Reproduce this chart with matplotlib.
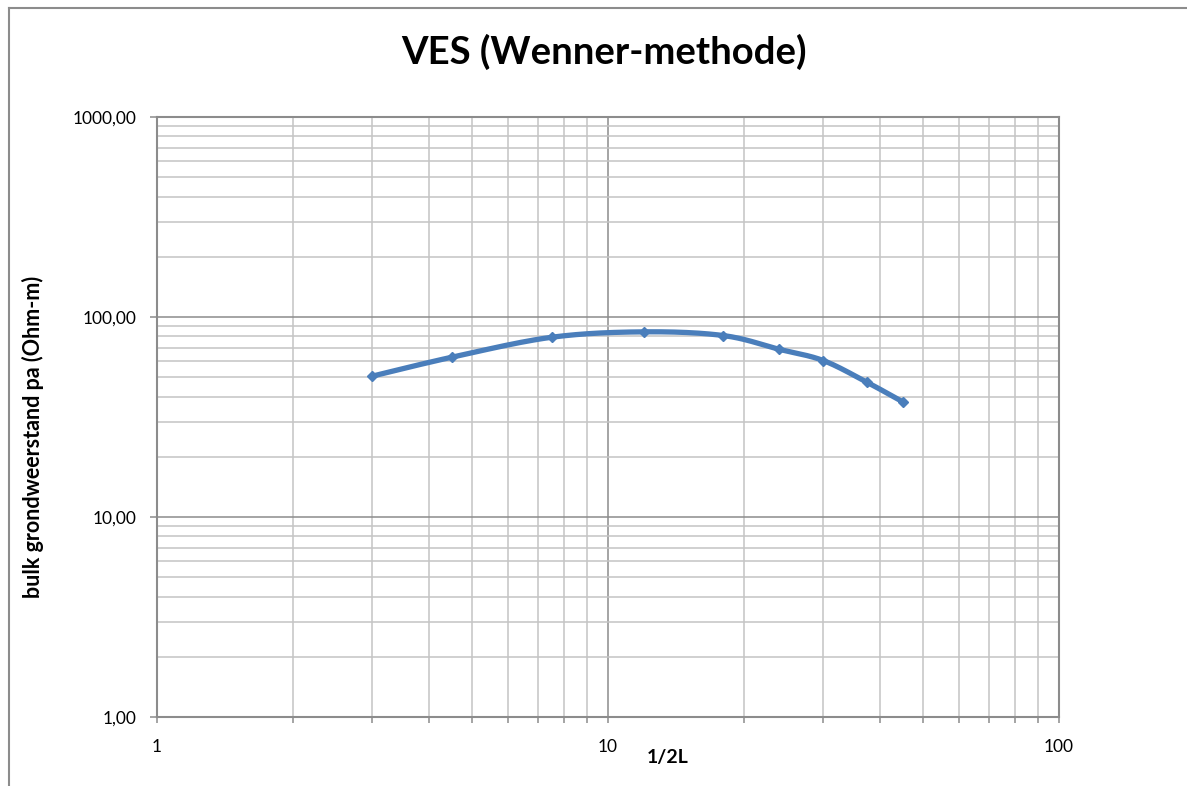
import numpy as np
import matplotlib
matplotlib.use("Agg")
import matplotlib.pyplot as plt
from matplotlib.ticker import FuncFormatter, LogLocator
from matplotlib.lines import Line2D

# Wenner spacing (1/2L) and apparent resistivity
half_L = [3, 4.5, 7.5, 12, 18, 24, 30, 37.5, 45]
rho_a = [50.6, 62.9, 79.2, 84.3, 80.8, 68.9, 60.6, 47.2, 37.7]

plt.rcParams['font.family'] = ['Lato', 'DejaVu Sans']

blue = '#4A7EBB'
major_grey = '#8C8C8C'
minor_grey = '#C4C4C4'


def smooth_curve(xs, ys, n=40):
    # Bezier smoothing in log-log space (tension 1/6, like a spreadsheet "smooth line")
    lx = np.log10(xs)
    ly = np.log10(ys)
    P = np.column_stack([lx, ly])
    pts = []
    for i in range(len(P) - 1):
        p0 = P[i - 1] if i > 0 else P[i]
        p1 = P[i]
        p2 = P[i + 1]
        p3 = P[i + 2] if i + 2 < len(P) else P[i + 1]
        c1 = p1 + (p2 - p0) / 6
        c2 = p2 - (p3 - p1) / 6
        t = np.linspace(0, 1, n)[:, None]
        seg = (1 - t) ** 3 * p1 + 3 * (1 - t) ** 2 * t * c1 + 3 * (1 - t) * t ** 2 * c2 + t ** 3 * p2
        pts.append(seg if i == 0 else seg[1:])
    pts = np.vstack(pts)
    return 10 ** pts[:, 0], 10 ** pts[:, 1]


fig = plt.figure(figsize=(11.87, 7.86), dpi=100)
ax = fig.add_axes([157 / 1187, 69 / 786, 902 / 1187, 600 / 786])

ax.set_xscale('log')
ax.set_yscale('log')
ax.set_xlim(1, 100)
ax.set_ylim(1, 1000)

# grid: minor first, majors on top
ax.xaxis.set_minor_locator(LogLocator(base=10, subs=np.arange(2, 10)))
ax.yaxis.set_minor_locator(LogLocator(base=10, subs=np.arange(2, 10)))
ax.grid(which='minor', color=minor_grey, linewidth=1.1)
ax.grid(which='major', color=major_grey, linewidth=1.1)
ax.set_axisbelow(True)

sx, sy = smooth_curve(half_L, rho_a)
ax.plot(sx, sy, color=blue, linewidth=3.8, solid_capstyle='round', zorder=3)
ax.plot(half_L, rho_a, linestyle='none', marker='D', markersize=5,
        color=blue, zorder=4)

ax.xaxis.set_major_formatter(FuncFormatter(lambda v, p: '{:g}'.format(v)))
ax.yaxis.set_major_formatter(FuncFormatter(lambda v, p: '{:.2f}'.format(v).replace('.', ',')))
ax.xaxis.set_minor_formatter(FuncFormatter(lambda v, p: ''))
ax.yaxis.set_minor_formatter(FuncFormatter(lambda v, p: ''))

ax.tick_params(axis='x', which='both', direction='out', length=4, width=1.1,
               color=major_grey, pad=12, labelsize=12.5)
ax.tick_params(axis='y', which='major', direction='out', length=5, width=1.1,
               color=major_grey, pad=10, labelsize=12.5)
ax.tick_params(axis='y', which='minor', length=0)

for s in ax.spines.values():
    s.set_color(major_grey)
    s.set_linewidth(1.5)

fig.text(604 / 1187, 1 - 52 / 786, 'VES (Wenner-methode)', ha='center', va='center',
         fontsize=27.5, fontweight='bold')
fig.text(668 / 1187, 1 - 758 / 786, '1/2L', ha='center', va='center',
         fontsize=14, fontweight='bold')
fig.text(33 / 1187, 1 - 437 / 786, 'bulk grondweerstand pa (Ohm-m)', ha='center',
         va='center', rotation=90, fontsize=15.5, fontweight='bold')

# chart area border (top and left edges)
fig.add_artist(Line2D([9 / 1187, 1], [1 - 8 / 786, 1 - 8 / 786], color='#8C8C8C',
                      linewidth=1.5, transform=fig.transFigure))
fig.add_artist(Line2D([9 / 1187, 9 / 1187], [0, 1 - 8 / 786], color='#8C8C8C',
                      linewidth=1.5, transform=fig.transFigure))

fig.savefig('out.png', dpi=100, facecolor='white')
